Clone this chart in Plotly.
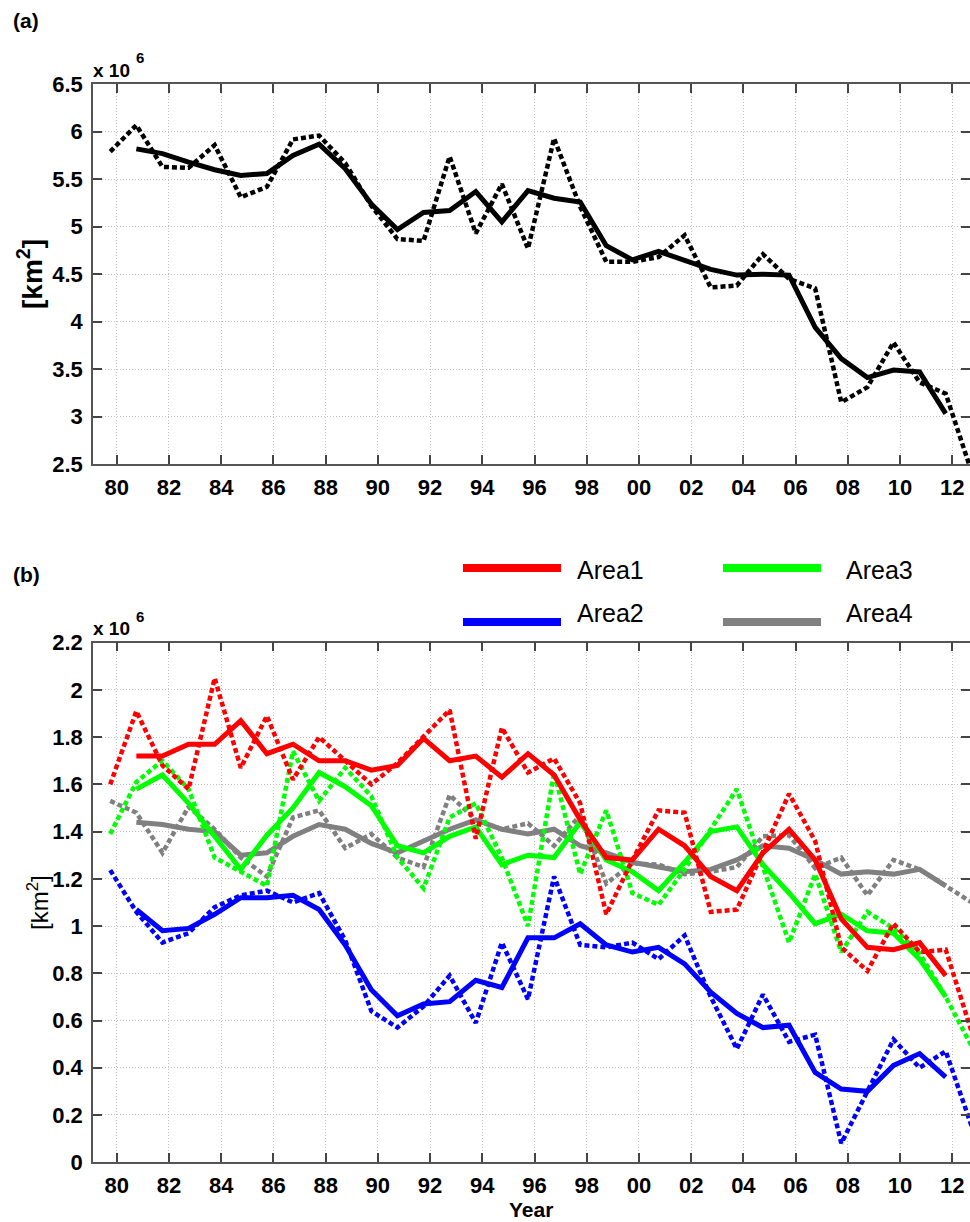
import plotly.graph_objects as go

# ---------------- data (values in 10^6 km^2) ----------------
years = list(range(1979, 2013))          # annual values (dotted)
smooth_years = list(range(1980, 2012))   # 3-yr running mean (solid)

total_annual = [5.79, 6.07, 5.63, 5.62, 5.86, 5.31, 5.42, 5.92, 5.96, 5.67,
                5.22, 4.87, 4.85, 5.74, 4.93, 5.45, 4.77, 5.93, 5.21, 4.63,
                4.63, 4.68, 4.91, 4.36, 4.38, 4.71, 4.45, 4.35, 3.15, 3.31,
                3.78, 3.36, 3.24, 2.41]
total_smooth = [5.82, 5.77, 5.68, 5.60, 5.54, 5.56, 5.75, 5.87, 5.61, 5.24,
                4.97, 5.15, 5.17, 5.37, 5.05, 5.38, 5.30, 5.26, 4.80, 4.65,
                4.74, 4.65, 4.55, 4.49, 4.50, 4.49, 3.94, 3.61, 3.41, 3.49,
                3.47, 3.03]

area1_annual = [1.60, 1.91, 1.68, 1.58, 2.05, 1.67, 1.89, 1.62, 1.80, 1.70,
                1.60, 1.69, 1.80, 1.915, 1.37, 1.84, 1.65, 1.71, 1.52, 1.05,
                1.28, 1.49, 1.48, 1.06, 1.07, 1.31, 1.56, 1.36, 0.91, 0.81,
                1.01, 0.89, 0.90, 0.55]
area1_smooth = [1.72, 1.72, 1.77, 1.77, 1.87, 1.73, 1.77, 1.70, 1.70, 1.66,
                1.68, 1.795, 1.70, 1.72, 1.63, 1.73, 1.64, 1.45, 1.29, 1.28,
                1.41, 1.34, 1.21, 1.15, 1.31, 1.41, 1.28, 1.03, 0.91, 0.90,
                0.93, 0.79]

area2_annual = [1.237, 1.06, 0.93, 0.97, 1.08, 1.13, 1.15, 1.10, 1.14, 0.94,
                0.64, 0.57, 0.66, 0.79, 0.59, 0.93, 0.69, 1.21, 0.92, 0.91,
                0.93, 0.86, 0.96, 0.70, 0.48, 0.71, 0.51, 0.54, 0.08, 0.30,
                0.52, 0.40, 0.47, 0.15]
area2_smooth = [1.07, 0.98, 0.99, 1.05, 1.12, 1.12, 1.13, 1.07, 0.92, 0.73,
                0.62, 0.67, 0.68, 0.77, 0.74, 0.95, 0.95, 1.01, 0.92, 0.89,
                0.91, 0.84, 0.72, 0.63, 0.57, 0.58, 0.38, 0.31, 0.30, 0.41,
                0.46, 0.36]

area3_annual = [1.39, 1.61, 1.70, 1.58, 1.29, 1.23, 1.17, 1.74, 1.53, 1.67,
                1.55, 1.29, 1.16, 1.46, 1.52, 1.29, 1.00, 1.65, 1.22, 1.49,
                1.14, 1.09, 1.24, 1.41, 1.58, 1.25, 0.93, 1.22, 0.89, 1.06,
                0.99, 0.885, 0.70, 0.49]
area3_smooth = [1.58, 1.64, 1.52, 1.38, 1.24, 1.385, 1.50, 1.65, 1.59, 1.51,
                1.34, 1.31, 1.38, 1.42, 1.26, 1.30, 1.29, 1.44, 1.28, 1.23,
                1.15, 1.27, 1.40, 1.42, 1.26, 1.14, 1.01, 1.05, 0.98, 0.97,
                0.86, 0.70]

area4_annual = [1.53, 1.48, 1.31, 1.505, 1.41, 1.29, 1.21, 1.46, 1.49, 1.33,
                1.39, 1.29, 1.25, 1.555, 1.45, 1.41, 1.435, 1.34, 1.47, 1.18,
                1.265, 1.26, 1.22, 1.23, 1.25, 1.38, 1.385, 1.245, 1.29, 1.13,
                1.28, 1.24, 1.17, 1.10]
area4_smooth = [1.44, 1.43, 1.41, 1.40, 1.30, 1.31, 1.38, 1.43, 1.41, 1.35,
                1.31, 1.36, 1.41, 1.45, 1.41, 1.39, 1.41, 1.34, 1.31, 1.27,
                1.25, 1.23, 1.24, 1.28, 1.34, 1.33, 1.28, 1.22, 1.23, 1.22,
                1.24, 1.17]

area_names = ["Area1", "Area2", "Area3", "Area4"]
xtick_years = list(range(1980, 2013, 2))
xtick_labels = [str(y)[2:] for y in xtick_years]
ya_ticks = [2.5, 3, 3.5, 4, 4.5, 5, 5.5, 6, 6.5]
ya_labels = ["2.5", "3", "3.5", "4", "4.5", "5", "5.5", "6", "6.5"]
yb_ticks = [0, 0.2, 0.4, 0.6, 0.8, 1.0, 1.2, 1.4, 1.6, 1.8, 2.0, 2.2]
yb_labels = ["0", "0.2", "0.4", "0.6", "0.8", "1", "1.2", "1.4", "1.6", "1.8", "2", "2.2"]

# ---------------- style ----------------
W, H = 970, 1222
ML, MR = 93, 0
FONT = "Liberation Sans"
SEPT = 0.75  # September position within the year
colors = {"Area1": "#ff0000", "Area2": "#0000ff", "Area3": "#00ff00", "Area4": "#808080"}
DOT = "5px,3px"
W_SOLID, W_DOT = 5, 4.5


def px_x(px):
    return (px - ML) / (W - ML - MR)


def px_y(py):
    return 1 - py / H


fig = go.Figure()

xa = [y + SEPT for y in years]
xs = [y + SEPT for y in smooth_years]

# panel (a)
fig.add_trace(go.Scatter(x=xa, y=total_annual, mode="lines", xaxis="x", yaxis="y",
                         line=dict(color="black", width=W_DOT, dash=DOT), showlegend=False))
fig.add_trace(go.Scatter(x=xs, y=total_smooth, mode="lines", xaxis="x", yaxis="y",
                         line=dict(color="black", width=W_SOLID), showlegend=False))

# panel (b)
series = {
    "Area1": (area1_annual, area1_smooth),
    "Area2": (area2_annual, area2_smooth),
    "Area3": (area3_annual, area3_smooth),
    "Area4": (area4_annual, area4_smooth),
}
for name in ["Area4", "Area3", "Area2", "Area1"]:
    ann_vals, sm = series[name]
    fig.add_trace(go.Scatter(x=xa, y=ann_vals, mode="lines", xaxis="x2", yaxis="y2",
                             line=dict(color=colors[name], width=W_DOT, dash=DOT),
                             showlegend=False, name=name + " annual"))
    fig.add_trace(go.Scatter(x=xs, y=sm, mode="lines", xaxis="x2", yaxis="y2",
                             line=dict(color=colors[name], width=W_SOLID),
                             showlegend=False, name=name))

tickfont = dict(family=FONT, size=22, color="black", weight="bold")
xcommon = dict(range=[1979.09, 2012.68], tickmode="array", tickvals=xtick_years,
               ticktext=xtick_labels, ticks="inside", ticklen=9, tickwidth=1.5,
               tickcolor="#444444", showline=True, linecolor="#555555", linewidth=1.5,
               mirror="allticks", showgrid=True, gridcolor="#c4c4c4", griddash="1px,2px",
               gridwidth=1, zeroline=False, tickfont=tickfont, automargin=False,
               ticklabelstandoff=3)
ycommon = dict(ticks="inside", ticklen=9, tickwidth=1.5, tickcolor="#444444",
               showline=True, linecolor="#555555", linewidth=1.5, mirror="allticks",
               showgrid=True, gridcolor="#c4c4c4", griddash="1px,2px", gridwidth=1,
               zeroline=False, tickfont=tickfont, automargin=False, tickmode="array",
               ticklabelstandoff=4)

fig.update_layout(
    width=W, height=H,
    margin=dict(l=ML, r=MR, t=0, b=0),
    paper_bgcolor="white", plot_bgcolor="white",
    template="none",
    showlegend=False,
    xaxis=dict(xcommon, domain=[0, 1], anchor="y"),
    yaxis=dict(ycommon, domain=[px_y(464), px_y(84.3)], range=[2.5, 6.5],
               tickvals=ya_ticks, ticktext=ya_labels, anchor="x"),
    xaxis2=dict(xcommon, domain=[0, 1], anchor="y2"),
    yaxis2=dict(ycommon, domain=[px_y(1162.2), px_y(642.7)], range=[0, 2.2],
                tickvals=yb_ticks, ticktext=yb_labels, anchor="x2"),
)

annotations = []


def ann(text, px, py, size, bold=True, xanchor="left", yanchor="middle", angle=0):
    annotations.append(dict(text=text, x=px_x(px), y=px_y(py), xref="paper", yref="paper",
                            showarrow=False, xanchor=xanchor, yanchor=yanchor,
                            textangle=angle,
                            font=dict(family=FONT, size=size, color="black",
                                      weight="bold" if bold else "normal")))


ann("(a)", 11, 21, 21)
ann("(b)", 11, 574, 21)
ann("x 10", 91, 70, 19)
ann("6", 134, 58, 15)
ann("x 10", 91, 628, 19)
ann("6", 134, 616, 15)
ann("[km<sup>2</sup>]", 30, 274, 28, bold=True, xanchor="center", angle=-90)
ann("[km<sup>2</sup>]", 38, 902, 24, bold=False, xanchor="center", angle=-90)
ann("Year", 531, 1209, 21, xanchor="center")

# legend drawn manually
legend_pos = {"Area1": (463, 568, 575, 570), "Area2": (463, 622, 575, 613),
              "Area3": (723, 568, 844, 570), "Area4": (723, 622, 844, 613)}
shapes = []
for name in area_names:
    lx, ly, tx, ty = legend_pos[name]
    shapes.append(dict(type="line", xref="paper", yref="paper",
                       x0=px_x(lx), x1=px_x(lx + 98), y0=px_y(ly), y1=px_y(ly),
                       line=dict(color=colors[name], width=8)))
    ann(name, tx, ty, 25, bold=False)

fig.update_layout(annotations=annotations, shapes=shapes)

fig.write_html("out.html")
